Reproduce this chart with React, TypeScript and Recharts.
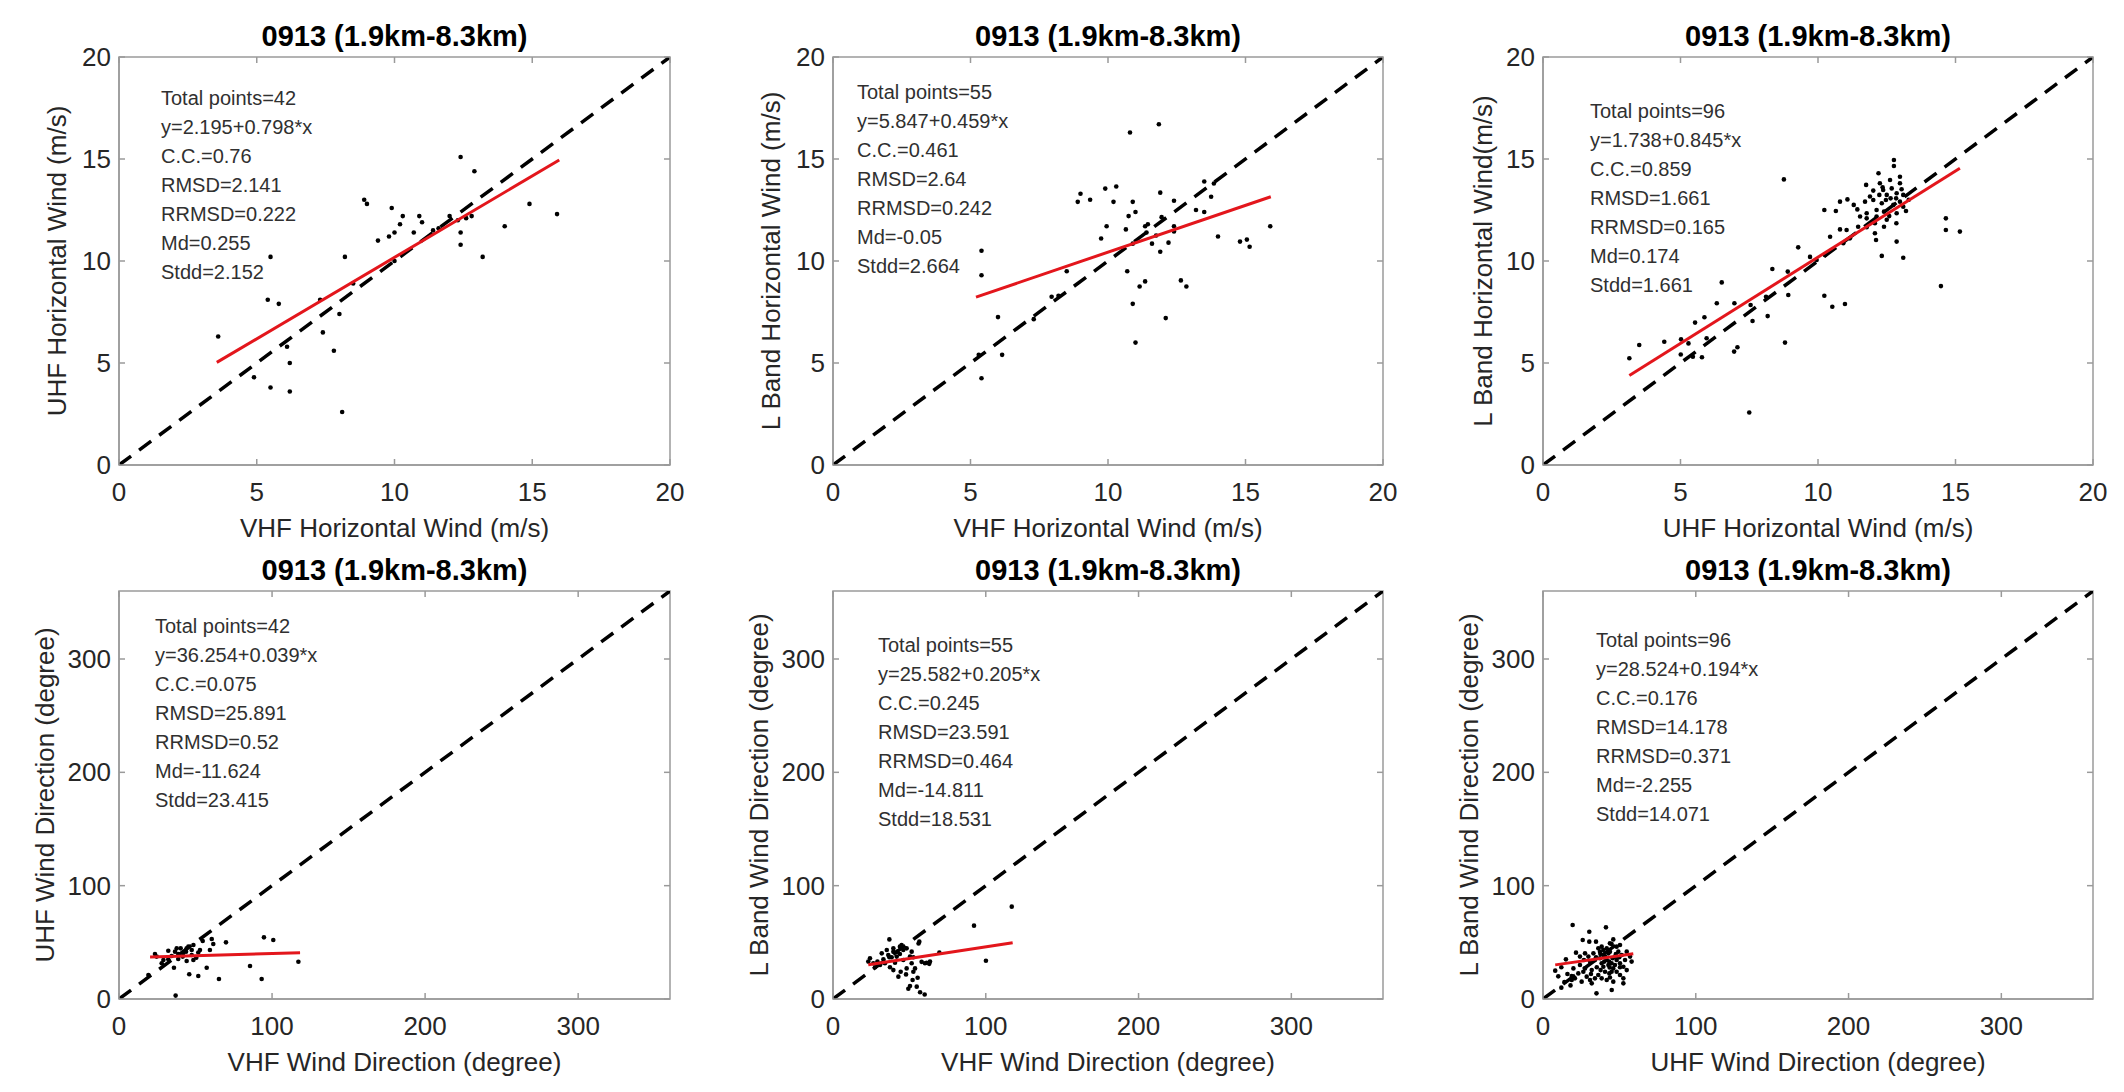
import { ScatterChart, Scatter, XAxis, YAxis, ReferenceArea } from 'recharts';

const FONT = '"Liberation Sans", Arial, Helvetica, sans-serif';
const AXIS = '#9a9a9a';
const INK = '#262626';
const RED = '#e3161c';

const titleText = '0913 (1.9km-8.3km)';

const speedTicks = [0, 5, 10, 15, 20];
const dirTicks = [0, 100, 200, 300];
const speedDomain: [number, number] = [0, 20];
const dirDomain: [number, number] = [0, 360];
const speedDiagonal: [number, number][] = [[0, 0], [20, 20]];
const dirDiagonal: [number, number][] = [[0, 0], [360, 360]];

// VHF vs UHF horizontal wind
const vhfUhfSpeed: [number, number][] = [
    [12.4, 15.1], [12.9, 14.4], [8.9, 13.0], [9.0, 12.8], [9.9, 12.6], [10.3, 12.2], [10.9, 12.2], [11.0, 11.9],
    [12.0, 12.2], [12.6, 12.1], [12.8, 12.2], [14.9, 12.8], [15.9, 12.3], [10.2, 11.8], [10.0, 11.4], [9.8, 11.2],
    [9.4, 11.0], [10.7, 11.4], [12.4, 11.4], [12.4, 10.8], [14.0, 11.7], [13.2, 10.2], [8.2, 10.2], [5.5, 10.2],
    [10.0, 10.0], [8.5, 8.9], [7.3, 8.1], [5.4, 8.1], [5.8, 7.9], [8.0, 7.4], [7.4, 6.5], [3.6, 6.3],
    [6.1, 5.8], [7.8, 5.6], [6.2, 5.0], [4.9, 4.3], [5.5, 3.8], [6.2, 3.6], [8.1, 2.6], [11.6, 11.6],
    [12.3, 12.0], [11.4, 11.5],
];
const vhfUhfSpeedFit: [number, number][] = [[3.55, 5.03], [15.98, 14.95]];
const vhfUhfSpeedStats = ['Total points=42', 'y=2.195+0.798*x', 'C.C.=0.76', 'RMSD=2.141', 'RRMSD=0.222', 'Md=0.255', 'Stdd=2.152'];

// VHF vs L band horizontal wind
const vhfLbandSpeed: [number, number][] = [
    [11.85, 16.7], [10.8, 16.3], [9.0, 13.3], [8.9, 12.9], [9.35, 13.0], [9.9, 13.55], [10.3, 13.65], [10.2, 12.9],
    [10.9, 12.9], [11.0, 12.4], [10.75, 12.2], [11.9, 13.35], [12.4, 12.95], [11.95, 12.15], [13.5, 13.9], [13.75, 13.15],
    [13.2, 12.5], [13.5, 12.4], [13.85, 13.8], [9.95, 11.7], [10.65, 11.55], [9.75, 11.1], [11.45, 11.8], [11.6, 10.85],
    [11.9, 10.45], [12.2, 10.9], [12.4, 11.7], [14.0, 11.2], [14.8, 10.95], [15.05, 11.05], [15.15, 10.7], [15.9, 11.7],
    [10.7, 9.5], [11.15, 8.75], [11.35, 9.0], [12.65, 9.05], [12.85, 8.75], [10.9, 7.9], [12.1, 7.2], [11.0, 6.0],
    [8.5, 9.5], [7.95, 8.25], [8.2, 8.3], [7.3, 7.15], [6.0, 7.25], [6.15, 5.4], [5.4, 10.5], [5.4, 9.3],
    [5.4, 4.25], [11.75, 11.25], [11.4, 11.4], [10.9, 10.85], [12.4, 11.45], [11.35, 11.7], [5.3, 5.4],
];
const vhfLbandSpeedFit: [number, number][] = [[5.2, 8.23], [15.92, 13.15]];
const vhfLbandSpeedStats = ['Total points=55', 'y=5.847+0.459*x', 'C.C.=0.461', 'RMSD=2.64', 'RRMSD=0.242', 'Md=-0.05', 'Stdd=2.664'];

// UHF vs L band horizontal wind
const uhfLbandSpeed: [number, number][] = [
    [12.76, 14.95], [12.76, 14.66], [8.76, 14.0], [11.75, 13.73], [12.25, 13.81], [12.35, 13.61], [12.01, 13.45], [12.68, 13.56],
    [12.98, 13.81], [13.04, 13.52], [12.23, 13.24], [12.47, 12.99], [12.64, 13.07], [10.8, 12.91], [11.07, 13.02], [11.71, 12.91],
    [12.01, 12.99], [12.84, 13.07], [13.1, 13.24], [10.23, 12.5], [10.65, 12.45], [11.43, 12.53], [12.13, 12.5], [12.4, 12.42],
    [13.2, 12.45], [11.77, 12.09], [12.13, 12.18], [12.59, 12.2], [12.85, 11.85], [10.8, 11.55], [11.46, 11.68], [11.77, 11.66],
    [12.4, 11.68], [12.07, 11.36], [12.11, 11.03], [12.86, 10.95], [14.65, 12.09], [14.65, 11.52], [15.16, 11.44], [9.28, 10.67],
    [11.16, 11.11], [10.92, 10.87], [12.32, 10.25], [13.1, 10.16], [10.25, 10.29], [9.95, 10.05], [8.34, 9.61], [8.9, 9.48],
    [6.5, 8.95], [14.47, 8.77], [8.92, 8.33], [8.11, 8.25], [7.55, 7.84], [7.62, 7.06], [8.17, 7.3], [10.23, 8.3],
    [10.52, 7.76], [10.98, 7.89], [6.32, 7.93], [6.96, 7.93], [5.87, 7.24], [5.53, 6.98], [5.95, 6.21], [5.02, 6.16],
    [5.29, 5.96], [4.41, 6.04], [3.5, 5.88], [3.14, 5.23], [5.01, 5.42], [5.45, 5.31], [5.78, 5.28], [6.95, 5.56],
    [7.07, 5.77], [8.8, 6.0], [7.5, 2.57], [12.5, 13.24], [12.86, 13.32], [11.89, 13.16], [12.32, 12.83], [12.74, 12.75],
    [12.98, 12.91], [11.53, 12.18], [12.5, 12.02], [12.86, 12.34], [12.07, 11.85], [13.1, 12.66], [12.37, 13.48], [12.62, 13.97],
    [12.98, 14.13], [11.77, 12.34], [11.04, 11.52], [10.44, 11.19], [9.71, 10.2], [11.3, 12.75], [12.2, 14.3], [13.3, 13.0],
];
const uhfLbandSpeedFit: [number, number][] = [[3.14, 4.39], [15.16, 14.55]];
const uhfLbandSpeedStats = ['Total points=96', 'y=1.738+0.845*x', 'C.C.=0.859', 'RMSD=1.661', 'RRMSD=0.165', 'Md=0.174', 'Stdd=1.661'];

// VHF vs UHF wind direction
const vhfUhfDir: [number, number][] = [
    [94.7, 54.4], [100.8, 52.1], [69.9, 50.0], [60.6, 52.9], [61.6, 48.5], [54.7, 51.2], [117.2, 32.9], [85.6, 29.1],
    [93.2, 17.6], [65.3, 17.6], [57.3, 27.6], [51.8, 20.3], [45.9, 21.8], [35.9, 27.6], [23.5, 39.7], [32.2, 42.6],
    [37.7, 44.7], [40.3, 44.7], [45.3, 46.2], [47.5, 43.2], [52.9, 43.2], [34.4, 37.9], [38.7, 35.3], [44.2, 33.5],
    [48.6, 34.4], [27.9, 31.5], [19.2, 21.2], [43.8, 41.8], [41.6, 37.4], [47.5, 38.8], [36.6, 41.8], [29.0, 34.4],
    [51.8, 41.0], [37.0, 3.0], [48.6, 47.6], [38.7, 39.7], [32.2, 35.0], [59.4, 43.2], [24.6, 37.4], [44.2, 44.7],
    [42.0, 40.5], [50.5, 36.5],
];
const vhfUhfDirFit: [number, number][] = [[20.3, 37.0], [118.3, 40.9]];
const vhfUhfDirStats = ['Total points=42', 'y=36.254+0.039*x', 'C.C.=0.075', 'RMSD=25.891', 'RRMSD=0.52', 'Md=-11.624', 'Stdd=23.415'];

// VHF vs L band wind direction
const vhfLbandDir: [number, number][] = [
    [117, 81.5], [92.3, 64.7], [100.1, 33.8], [36.9, 52.6], [56.5, 50.6], [51.5, 41.8], [46, 43.2], [43.8, 46.2],
    [39.5, 44.7], [35.2, 43.2], [31.9, 40.3], [24.2, 35.9], [33, 35], [38.4, 36.8], [43.8, 39.7], [27.5, 28],
    [37.3, 28], [46, 34.4], [51.5, 31.5], [53.7, 27], [61.3, 32], [63.5, 33], [69.6, 40.9], [44.3, 24.1],
    [42.8, 19.7], [52.1, 16.8], [55.4, 18.8], [50.4, 11.5], [49.3, 9.1], [57, 6], [60, 4], [29.1, 33],
    [40.6, 32], [48.2, 44.7], [36.2, 38.8], [42.1, 41.8], [30.8, 30], [52.6, 36.8], [58, 32.8], [26.4, 31.5],
    [54.8, 10.9], [52.6, 24.1], [39.5, 25.5], [48.2, 27], [34, 31.5], [44.9, 47.6], [41.7, 37.4], [50.4, 37.4],
    [60.2, 31.5], [23.1, 33], [63, 31], [47.8, 21.7], [36.9, 36.8], [39.5, 41.8], [56, 49],
];
const vhfLbandDirFit: [number, number][] = [[23.1, 30.3], [117.6, 49.7]];
const vhfLbandDirStats = ['Total points=55', 'y=25.582+0.205*x', 'C.C.=0.245', 'RMSD=23.591', 'RRMSD=0.464', 'Md=-14.811', 'Stdd=18.531'];

// UHF vs L band wind direction
const uhfLbandDir: [number, number][] = [
    [19.4, 65.3], [41.2, 63.2], [30.3, 59.4], [26, 52.1], [30.3, 50.6], [34.7, 50.6], [46, 52.6], [44.9, 48.5],
    [38.4, 46.2], [41.7, 44.7], [48.2, 46.2], [21.6, 40.9], [27.5, 40.3], [33, 40.3], [37.3, 41.8], [39.5, 38.8],
    [43.8, 41.8], [49.3, 41.8], [51.5, 38.8], [47.1, 37.4], [41.7, 34.4], [37.3, 35.9], [44.9, 31.5], [50.4, 31.5],
    [53.7, 34.4], [57, 37.4], [30.8, 33], [24.2, 30], [19.9, 27], [27.5, 27], [35.2, 28], [39.5, 28.5],
    [46, 27], [50.4, 28], [18.8, 20.3], [23.1, 22.6], [26.4, 24.1], [36.2, 21.2], [43.4, 22.6], [48.2, 24.1],
    [20.9, 18.2], [25.3, 15.3], [30.8, 16.8], [38.4, 18.2], [43.8, 19], [52.6, 18.2], [31.9, 13.8], [18.8, 16.8],
    [10, 20], [12, 28], [14, 15], [15, 35], [8, 25], [16, 22], [12, 10], [18, 12],
    [39.5, 43.3], [42.8, 40.3], [45.6, 35.9], [40.6, 37.4], [48.2, 34.4], [38.4, 31.5], [42.8, 30], [47.1, 30],
    [52.6, 28.5], [54.8, 25.5], [44.9, 24.1], [40.6, 24.1], [50.4, 21.2], [29.7, 37.4], [34, 34.4], [31.9, 25.5],
    [24.2, 37.4], [36.2, 44.7], [50.4, 47.6], [43.8, 49.1], [54.8, 41.8], [58, 33], [28.6, 19.7], [34, 18.2],
    [41.7, 16.8], [46, 15.3], [52.6, 13.8], [35, 5], [45, 8], [41.2, 36.5], [43.3, 33], [47.7, 39.7],
    [37.6, 39.7], [34.7, 36.8], [40.1, 33], [49.9, 36.8], [43.6, 27.9], [37.7, 25.5], [31.4, 22], [26.8, 34.4],
];
const uhfLbandDirFit: [number, number][] = [[8.0, 30.1], [59.1, 40.0]];
const uhfLbandDirStats = ['Total points=96', 'y=28.524+0.194*x', 'C.C.=0.176', 'RMSD=14.178', 'RRMSD=0.371', 'Md=-2.255', 'Stdd=14.071'];

const toXY = (pts: [number, number][]) => pts.map(([x, y]) => ({ x, y }));

const XTick = (props: any) => {
    const { x, y, payload, plotH, gap } = props;
    const axisY = y - gap;
    return (
        <g>
            <line x1={x} x2={x} y1={axisY} y2={axisY - 6} stroke={AXIS} strokeWidth={1.5} />
            <line x1={x} x2={x} y1={axisY - plotH} y2={axisY - plotH + 6} stroke={AXIS} strokeWidth={1.5} />
            <text x={x} y={y} textAnchor="middle" dominantBaseline="central" fill={INK} fontSize={26} fontFamily={FONT}>
                {payload.value}
            </text>
        </g>
    );
};

const YTick = (props: any) => {
    const { x, y, payload, plotW, gap } = props;
    const axisX = x + gap;
    return (
        <g>
            <line x1={axisX} x2={axisX + 6} y1={y} y2={y} stroke={AXIS} strokeWidth={1.5} />
            <line x1={axisX + plotW} x2={axisX + plotW - 6} y1={y} y2={y} stroke={AXIS} strokeWidth={1.5} />
            <text x={x} y={y} textAnchor="end" dominantBaseline="central" fill={INK} fontSize={26} fontFamily={FONT}>
                {payload.value}
            </text>
        </g>
    );
};

const Dot = (props: any) => <circle cx={props.cx} cy={props.cy} r={2.3} fill="#000" />;
const NoDot = () => <g />;

interface PanelProps {
    left: number;
    top: number;
    w: number;
    h: number;
    domain: [number, number];
    ticks: number[];
    diagonal: [number, number][];
    points: [number, number][];
    fit: [number, number][];
    stats: string[];
    statsAt: [number, number];
    xLabel: string;
    yLabel: string;
    yLabelOffset: number;
}

const Panel = (p: PanelProps) => {
    const padL = 100;
    const padT = 30;
    const padR = 24;
    const padB = 24;
    const axisH = 75;
    const W = p.w + padL + padR;
    const H = p.h + padT + axisH + padB;
    const labelStyle = { fill: INK, fontSize: 26, fontFamily: FONT };
    return (
        <div style={{ position: 'absolute', left: p.left - padL, top: p.top - padT, width: W, height: H }}>
            <ScatterChart width={W} height={H} margin={{ top: padT, right: padR, bottom: padB, left: 0 }}>
                <XAxis
                    type="number"
                    dataKey="x"
                    domain={p.domain}
                    ticks={p.ticks}
                    interval={0}
                    allowDataOverflow
                    height={axisH}
                    tickSize={0}
                    tickMargin={27}
                    tickLine={false}
                    axisLine={{ stroke: AXIS, strokeWidth: 1.5 }}
                    tick={<XTick plotH={p.h} gap={27} />}
                    label={{ value: p.xLabel, position: 'insideBottom', offset: 3, style: labelStyle }}
                />
                <YAxis
                    type="number"
                    dataKey="y"
                    domain={p.domain}
                    ticks={p.ticks}
                    interval={0}
                    allowDataOverflow
                    width={padL}
                    tickSize={0}
                    tickMargin={8}
                    tickLine={false}
                    axisLine={{ stroke: AXIS, strokeWidth: 1.5 }}
                    tick={<YTick plotW={p.w} gap={8} />}
                    label={{
                        value: p.yLabel,
                        angle: -90,
                        position: 'insideLeft',
                        offset: p.yLabelOffset,
                        style: { ...labelStyle, textAnchor: 'middle' },
                    }}
                />
                <ReferenceArea
                    x1={p.domain[0]}
                    x2={p.domain[1]}
                    y1={p.domain[0]}
                    y2={p.domain[1]}
                    fill="none"
                    stroke={AXIS}
                    strokeWidth={1.5}
                />
                <Scatter
                    data={toXY(p.diagonal)}
                    shape={NoDot}
                    line={{ stroke: '#000', strokeWidth: 3.5, strokeDasharray: '15 10' }}
                    isAnimationActive={false}
                />
                <Scatter data={toXY(p.points)} shape={Dot} isAnimationActive={false} />
                <Scatter
                    data={toXY(p.fit)}
                    shape={NoDot}
                    line={{ stroke: RED, strokeWidth: 3 }}
                    isAnimationActive={false}
                />
            </ScatterChart>
            <div
                style={{
                    position: 'absolute',
                    left: padL,
                    width: p.w,
                    top: padT - 21 - 14,
                    textAlign: 'center',
                    fontFamily: FONT,
                    fontWeight: 'bold',
                    fontSize: 29,
                    lineHeight: '29px',
                    color: '#000',
                    whiteSpace: 'nowrap',
                }}
            >
                {titleText}
            </div>
            <div
                style={{
                    position: 'absolute',
                    left: padL + p.statsAt[0],
                    top: padT + p.statsAt[1] - 14.5,
                    fontFamily: FONT,
                    fontSize: 20,
                    lineHeight: '29px',
                    color: '#303030',
                    whiteSpace: 'nowrap',
                }}
            >
                {p.stats.map((s) => (
                    <div key={s}>{s}</div>
                ))}
            </div>
        </div>
    );
};

const App = () => {
    const top1 = 57;
    const top2 = 591;
    const h = 408;
    return (
        <div style={{ position: 'absolute', left: 0, top: 0, width: 2124, height: 1092, background: '#fff', overflow: 'hidden' }}>
            <Panel left={119} top={top1} w={551} h={h} domain={speedDomain} ticks={speedTicks} diagonal={speedDiagonal}
                points={vhfUhfSpeed} fit={vhfUhfSpeedFit} stats={vhfUhfSpeedStats} statsAt={[42, 41]}
                xLabel="VHF Horizontal Wind (m/s)" yLabel="UHF Horizontal Wind (m/s)" yLabelOffset={38} />
            <Panel left={833} top={top1} w={550} h={h} domain={speedDomain} ticks={speedTicks} diagonal={speedDiagonal}
                points={vhfLbandSpeed} fit={vhfLbandSpeedFit} stats={vhfLbandSpeedStats} statsAt={[24, 35]}
                xLabel="VHF Horizontal Wind (m/s)" yLabel="L Band Horizontal Wind (m/s)" yLabelOffset={38} />
            <Panel left={1543} top={top1} w={550} h={h} domain={speedDomain} ticks={speedTicks} diagonal={speedDiagonal}
                points={uhfLbandSpeed} fit={uhfLbandSpeedFit} stats={uhfLbandSpeedStats} statsAt={[47, 54]}
                xLabel="UHF Horizontal Wind (m/s)" yLabel="L Band Horizontal Wind(m/s)" yLabelOffset={40} />
            <Panel left={119} top={top2} w={551} h={h} domain={dirDomain} ticks={dirTicks} diagonal={dirDiagonal}
                points={vhfUhfDir} fit={vhfUhfDirFit} stats={vhfUhfDirStats} statsAt={[36, 35]}
                xLabel="VHF Wind Direction (degree)" yLabel="UHF Wind Direction (degree)" yLabelOffset={26} />
            <Panel left={833} top={top2} w={550} h={h} domain={dirDomain} ticks={dirTicks} diagonal={dirDiagonal}
                points={vhfLbandDir} fit={vhfLbandDirFit} stats={vhfLbandDirStats} statsAt={[45, 54]}
                xLabel="VHF Wind Direction (degree)" yLabel="L Band Wind Direction (degree)" yLabelOffset={26} />
            <Panel left={1543} top={top2} w={550} h={h} domain={dirDomain} ticks={dirTicks} diagonal={dirDiagonal}
                points={uhfLbandDir} fit={uhfLbandDirFit} stats={uhfLbandDirStats} statsAt={[53, 49]}
                xLabel="UHF Wind Direction (degree)" yLabel="L Band Wind Direction (degree)" yLabelOffset={26} />
        </div>
    );
};

export default App;
